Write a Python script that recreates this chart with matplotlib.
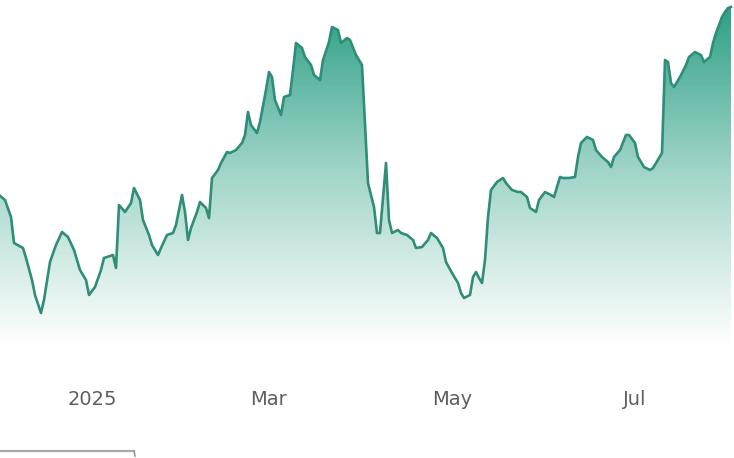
#Price area chart with gradient fill

#Needed libraries
import pandas as pd
import numpy as np
import matplotlib
matplotlib.use("Agg")
import matplotlib.pyplot as plt
import matplotlib.dates as mdates
from matplotlib.colors import LinearSegmentedColormap

#Data
dates = [
    "2024-12-01", "2024-12-03", "2024-12-05", "2024-12-06", "2024-12-09", "2024-12-10",
    "2024-12-12", "2024-12-13", "2024-12-15", "2024-12-16", "2024-12-18", "2024-12-20",
    "2024-12-22", "2024-12-24", "2024-12-26", "2024-12-28", "2024-12-30", "2024-12-31",
    "2025-01-02", "2025-01-04", "2025-01-05", "2025-01-08", "2025-01-09", "2025-01-10",
    "2025-01-12", "2025-01-14", "2025-01-15", "2025-01-17", "2025-01-18", "2025-01-20",
    "2025-01-21", "2025-01-23", "2025-01-24", "2025-01-26", "2025-01-28", "2025-01-29",
    "2025-01-31", "2025-02-01", "2025-02-02", "2025-02-03", "2025-02-05", "2025-02-06",
    "2025-02-08", "2025-02-09", "2025-02-10", "2025-02-12", "2025-02-13", "2025-02-15",
    "2025-02-16", "2025-02-18", "2025-02-20", "2025-02-21", "2025-02-22", "2025-02-23",
    "2025-02-25", "2025-02-26", "2025-02-28", "2025-03-01", "2025-03-02", "2025-03-03",
    "2025-03-05", "2025-03-06", "2025-03-08", "2025-03-09", "2025-03-10", "2025-03-12",
    "2025-03-13", "2025-03-15", "2025-03-16", "2025-03-18", "2025-03-19", "2025-03-21",
    "2025-03-22", "2025-03-24", "2025-03-25", "2025-03-27", "2025-03-28", "2025-03-30",
    "2025-03-31", "2025-04-01", "2025-04-03", "2025-04-05", "2025-04-06", "2025-04-07",
    "2025-04-09", "2025-04-10", "2025-04-11", "2025-04-13", "2025-04-14", "2025-04-16",
    "2025-04-18", "2025-04-19", "2025-04-21", "2025-04-23", "2025-04-24", "2025-04-26",
    "2025-04-28", "2025-04-29", "2025-05-01", "2025-05-03", "2025-05-04", "2025-05-05",
    "2025-05-07", "2025-05-08", "2025-05-09", "2025-05-10", "2025-05-11", "2025-05-12",
    "2025-05-13", "2025-05-14", "2025-05-16", "2025-05-18", "2025-05-19", "2025-05-21",
    "2025-05-23", "2025-05-24", "2025-05-26", "2025-05-27", "2025-05-29", "2025-05-30",
    "2025-06-01", "2025-06-03", "2025-06-04", "2025-06-06", "2025-06-07", "2025-06-09",
    "2025-06-11", "2025-06-12", "2025-06-13", "2025-06-15", "2025-06-17", "2025-06-18",
    "2025-06-20", "2025-06-22", "2025-06-23", "2025-06-24", "2025-06-26", "2025-06-28",
    "2025-06-29", "2025-07-01", "2025-07-02", "2025-07-04", "2025-07-06", "2025-07-07",
    "2025-07-09", "2025-07-10", "2025-07-11", "2025-07-12", "2025-07-13", "2025-07-14",
    "2025-07-16", "2025-07-18", "2025-07-19", "2025-07-21", "2025-07-23", "2025-07-24",
    "2025-07-26", "2025-07-27", "2025-07-28", "2025-07-29", "2025-07-30", "2025-07-31",
    "2025-08-01", "2025-08-02",
]
prices = [
    212.0, 210.0, 203.2, 192.8, 190.8, 186.8,
    178.0, 172.0, 164.8, 170.0, 185.2, 192.0,
    197.2, 195.2, 190.0, 182.0, 178.0, 172.0,
    175.2, 182.0, 186.8, 188.0, 182.8, 208.0,
    205.2, 208.8, 214.8, 210.0, 202.0, 196.0,
    192.0, 188.0, 190.8, 196.0, 196.8, 200.0,
    212.0, 205.2, 194.0, 198.8, 205.2, 209.2,
    206.8, 202.8, 218.8, 222.0, 224.8, 229.2,
    228.8, 230.0, 232.8, 236.0, 245.2, 240.0,
    236.8, 241.2, 254.0, 261.2, 259.2, 250.0,
    244.0, 251.2, 252.0, 262.0, 272.8, 270.8,
    267.2, 264.0, 260.0, 258.0, 266.0, 273.2,
    279.2, 278.0, 272.8, 274.8, 274.0, 268.0,
    266.0, 264.0, 216.8, 207.2, 196.8, 196.8,
    224.8, 202.0, 196.8, 198.0, 196.8, 196.0,
    194.0, 190.8, 191.2, 194.0, 196.8, 194.8,
    190.8, 185.2, 180.8, 176.8, 172.8, 170.8,
    172.0, 179.2, 181.2, 178.8, 176.8, 186.0,
    203.2, 214.0, 217.2, 218.8, 216.8, 214.0,
    213.2, 213.2, 211.2, 206.8, 205.2, 210.0,
    213.2, 212.0, 211.2, 219.2, 218.8, 218.8,
    219.2, 227.2, 232.8, 235.2, 234.0, 230.0,
    227.2, 225.2, 223.2, 227.2, 230.0, 236.0,
    236.0, 232.8, 227.2, 223.2, 222.0, 222.8,
    226.8, 228.8, 266.0, 265.2, 256.8, 255.2,
    259.2, 264.0, 267.2, 269.2, 268.0, 265.2,
    267.2, 272.8, 276.8, 280.0, 283.2, 285.2,
    286.8, 287.2,
]
tick_dates = ["2025-01-01", "2025-03-01", "2025-05-01", "2025-07-01"]
tick_labels = ["2025", "Mar", "May", "Jul"]

line_color = "#2f8d78"

x = mdates.date2num(pd.to_datetime(dates))
y = np.array(prices)
x0 = mdates.date2num(pd.Timestamp("2024-12-01 08:00"))
x1 = mdates.date2num(pd.Timestamp("2025-08-03"))
y0, y1 = 148, 290

fig = plt.figure(figsize=(7.34, 4.58), dpi=100)
ax = fig.add_axes([0, 103 / 458, 1, 355 / 458])

#Gradient fill clipped to the area under the line
poly = ax.fill_between(x, y, y0, color="none", lw=0)
teal = (0.13, 0.61, 0.50)
cmap = LinearSegmentedColormap.from_list(
    "fade", [(0.0, (*teal, 0.0)), (0.15, (*teal, 0.12)), (0.5, (*teal, 0.42)),
             (0.8, (*teal, 0.75)), (1.0, (*teal, 0.98))])
grad = np.linspace(0, 1, 256).reshape(-1, 1)
img = ax.imshow(grad, cmap=cmap, aspect="auto", origin="lower",
                extent=[x0, x1, y0 + 3, y1], zorder=1)
img.set_clip_path(poly.get_paths()[0], transform=ax.transData)

ax.plot(x, y, color=line_color, lw=1.9, zorder=3, solid_joinstyle="round")

ax.set_xlim(x0, x1)
ax.set_ylim(y0, y1)
ax.set_xticks(mdates.date2num(pd.to_datetime(tick_dates)))
ax.set_xticklabels(tick_labels)
ax.tick_params(axis="x", length=0, pad=25, labelsize=14, labelcolor="#5f5f5f")
ax.set_yticks([])
for s in ax.spines.values():
    s.set_visible(False)

#Cropped scrollbar line at the bottom left
fig.add_artist(plt.Line2D([0, 134 / 734], [1 - 451 / 458, 1 - 451 / 458],
                          color="#aaaaaa", lw=1.6))
fig.add_artist(plt.Line2D([134 / 734, 135 / 734], [1 - 451 / 458, 1 - 456 / 458],
                          color="#999999", lw=1.2))

fig.savefig("out.png", dpi=100)
